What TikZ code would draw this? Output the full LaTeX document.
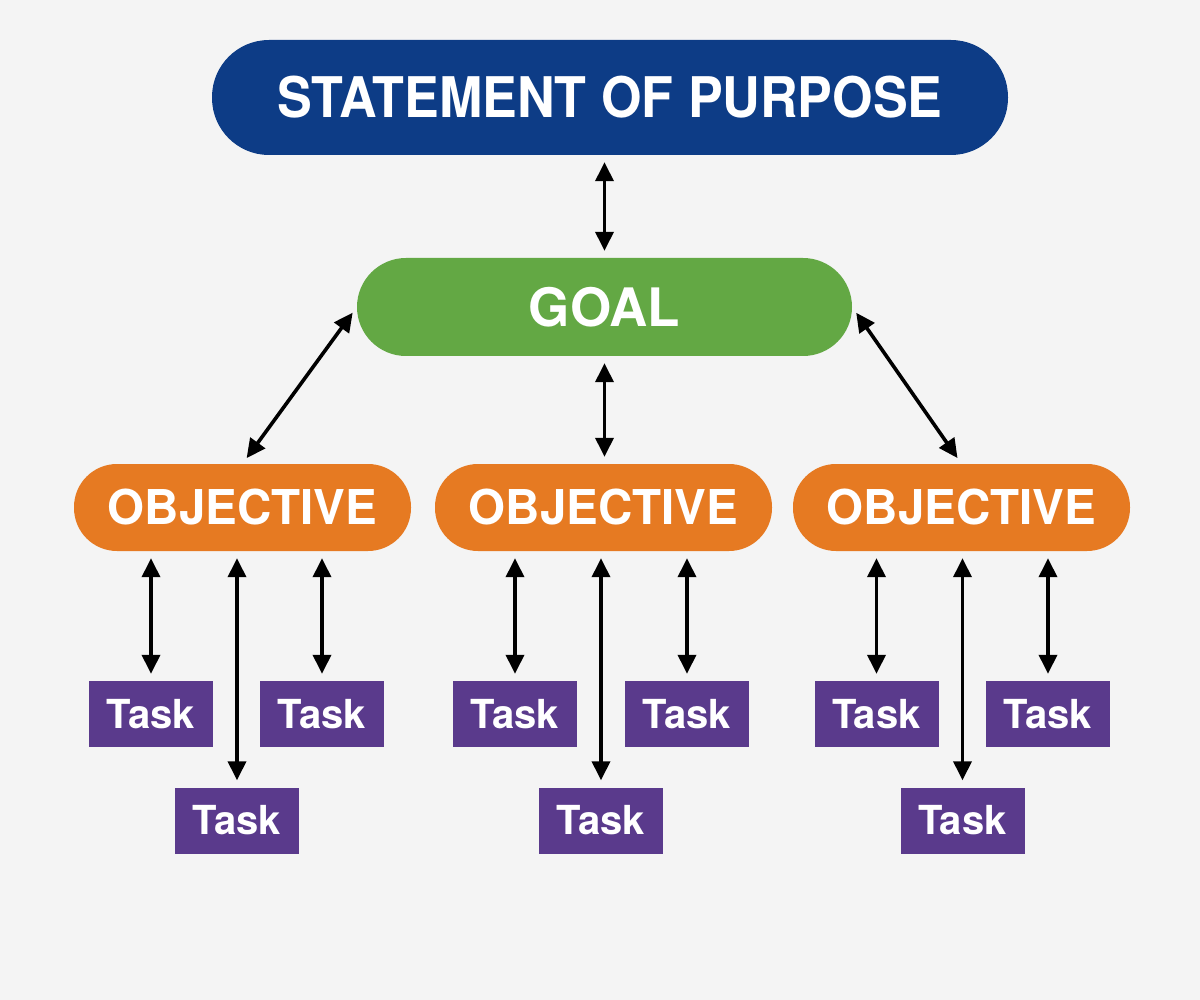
\documentclass[tikz,border=0pt]{standalone}
\usepackage{fontspec}
\setmainfont{TeX Gyre Heros}
\usetikzlibrary{arrows.meta}
\definecolor{bgc}{HTML}{F4F4F4}
\definecolor{sopblue}{HTML}{0D3C86}
\definecolor{goalgreen}{HTML}{63A844}
\definecolor{objorange}{HTML}{E67A22}
\definecolor{taskpurple}{HTML}{5A3A8C}
\tikzset{
  x=1pt,y=-1pt,
  pill/.style={draw=none, text=white, inner sep=0pt, font=\bfseries},
  taskbox/.style={fill=taskpurple, text=white, inner sep=0pt, minimum width=124pt, minimum height=66pt, font=\fontsize{40}{40}\selectfont\bfseries},
  link/.style={line width=3.6pt, {Triangle[width=18pt,length=19pt]}-{Triangle[width=18pt,length=19pt]}, shorten <=7pt, shorten >=7pt},
}
\begin{document}
\begin{tikzpicture}
\fill[bgc] (0,0) rectangle (1200,1000);
\useasboundingbox (0,0) rectangle (1200,1000);
% statement
\node[pill, fill=sopblue, minimum width=796pt, minimum height=115pt, rounded corners=57pt, font=\fontsize{56}{56}\selectfont\bfseries] (sop) at (610,97.5) {\scalebox{0.93}[1]{STATEMENT OF PURPOSE}};
% goal
\node[pill, fill=goalgreen, minimum width=495pt, minimum height=98pt, rounded corners=49pt, font=\fontsize{53}{53}\selectfont\bfseries] (goal) at (604.5,307) {GOAL};
% objectives
\foreach \n/\cx in {o1/242.5, o2/603.5, o3/961.5}{
  \node[pill, fill=objorange, minimum width=337pt, minimum height=87pt, rounded corners=43pt, font=\fontsize{48}{48}\selectfont\bfseries] (\n) at (\cx,507.5) {\scalebox{0.99}[1]{OBJECTIVE}};
}
% tasks
\node[taskbox] (t1a) at (151,714) {Task};
\node[taskbox] (t1c) at (322,714) {Task};
\node[taskbox] (t1b) at (237,820.5) {Task};
\node[taskbox] (t2a) at (515,714) {Task};
\node[taskbox] (t2c) at (687,714) {Task};
\node[taskbox] (t2b) at (601,820.5) {Task};
\node[taskbox] (t3a) at (876.5,714) {Task};
\node[taskbox] (t3c) at (1048,714) {Task};
\node[taskbox] (t3b) at (962.5,820.5) {Task};
% connectors
\draw[link] (sop.south -| goal.north) -- (goal.north);
\draw[link] (goal.west) -- (o1.north);
\draw[link] (goal.east) -- (o3.north);
\draw[link] (goal.south) -- (goal.south |- o2.north);
\foreach \o/\t in {o1/t1a, o1/t1b, o1/t1c, o2/t2a, o2/t2b, o2/t2c, o3/t3a, o3/t3b, o3/t3c}{
  \draw[link] (\t.north |- \o.south) -- (\t.north);
}
\end{tikzpicture}
\end{document}
